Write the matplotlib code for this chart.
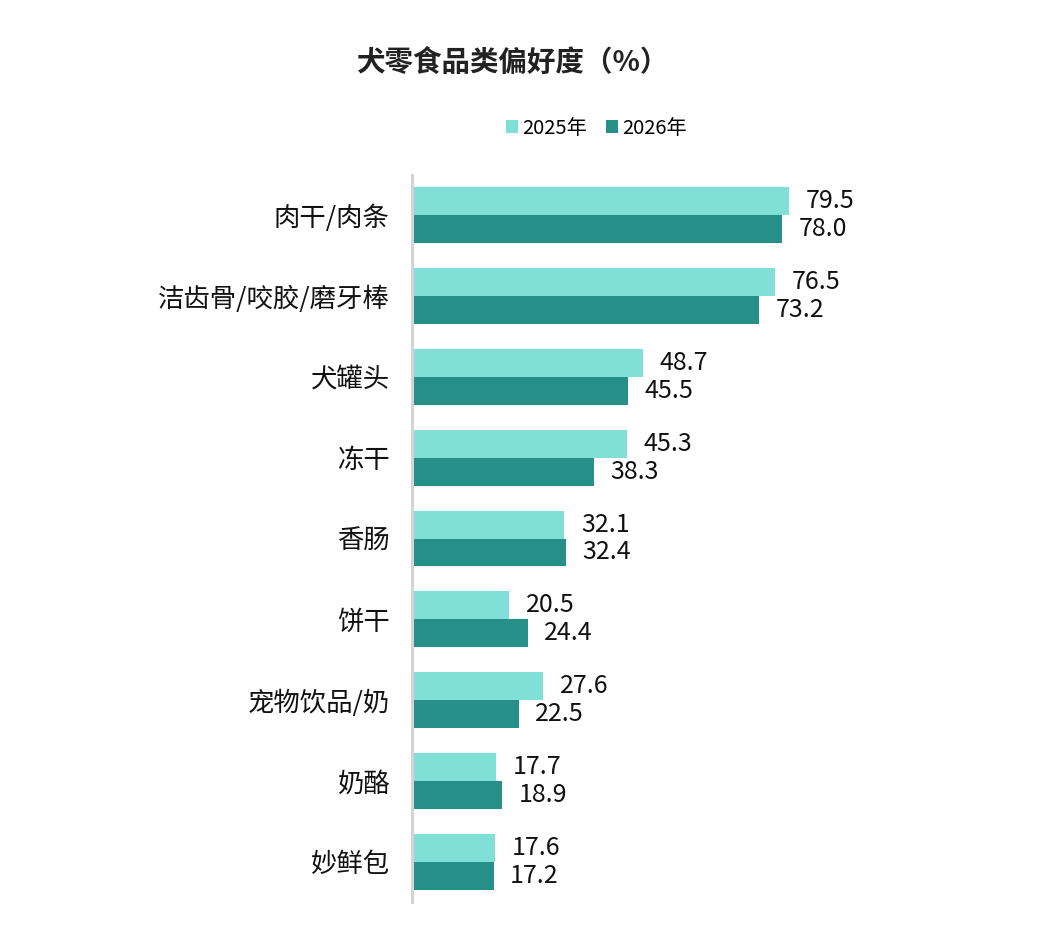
import matplotlib
matplotlib.use("Agg")
import matplotlib.pyplot as plt
import numpy as np

plt.rcParams['font.family'] = ['Noto Sans CJK SC', 'DejaVu Sans']

categories = ["肉干/肉条", "洁齿骨/咬胶/磨牙棒", "犬罐头", "冻干", "香肠",
              "饼干", "宠物饮品/奶", "奶酪", "妙鲜包"]
series_names = ["2025年", "2026年"]
vals_2025 = [79.5, 76.5, 48.7, 45.3, 32.1, 20.5, 27.6, 17.7, 17.6]
vals_2026 = [78.0, 73.2, 45.5, 38.3, 32.4, 24.4, 22.5, 18.9, 17.2]

C_LIGHT = "#80E0D8"
C_DARK = "#258F88"

fig = plt.figure(figsize=(10.58, 9.46), dpi=100)
ax = fig.add_axes([412 / 1058, 1 - 902 / 946, 520 / 1058, 727 / 946])

y = np.arange(len(categories))
h = 0.3465
b1 = ax.barh(y - h / 2, vals_2025, height=h, color=C_LIGHT, label=series_names[0])
b2 = ax.barh(y + h / 2, vals_2026, height=h, color=C_DARK, label=series_names[1])

# value labels to the right of each bar
for bars, vals in ((b1, vals_2025), (b2, vals_2026)):
    for rect, v in zip(bars, vals):
        ax.annotate(f"{v:.1f}", (rect.get_width(), rect.get_y() + rect.get_height() / 2),
                    xytext=(12, 0), textcoords="offset points",
                    ha="left", va="center", fontsize=18, color="#111111")

ax.set_xlim(0, 520 / 4.742)
ax.set_ylim(len(categories) - 0.5, -0.5)
ax.set_yticks(y)
ax.set_yticklabels(categories, fontsize=19, color="#111111")
ax.tick_params(axis="y", length=0, pad=16)
ax.set_xticks([])
for s in ("top", "right", "bottom"):
    ax.spines[s].set_visible(False)
ax.spines["left"].set_color("#D4D4D4")
ax.spines["left"].set_linewidth(2.2)

fig.text(512 / 1058, 1 - 63 / 946, "犬零食品类偏好度（%）", ha="center", va="center",
         fontsize=20.5, fontweight="bold", color="#222222")

fig.legend(handles=[b1, b2], labels=series_names, loc="center",
           bbox_to_anchor=(596 / 1058, 1 - 128 / 946), ncol=2, frameon=False,
           fontsize=14.5, handlelength=0.6, handleheight=0.6, handletextpad=0.2,
           columnspacing=0.95)

fig.savefig("out.png", dpi=100)
